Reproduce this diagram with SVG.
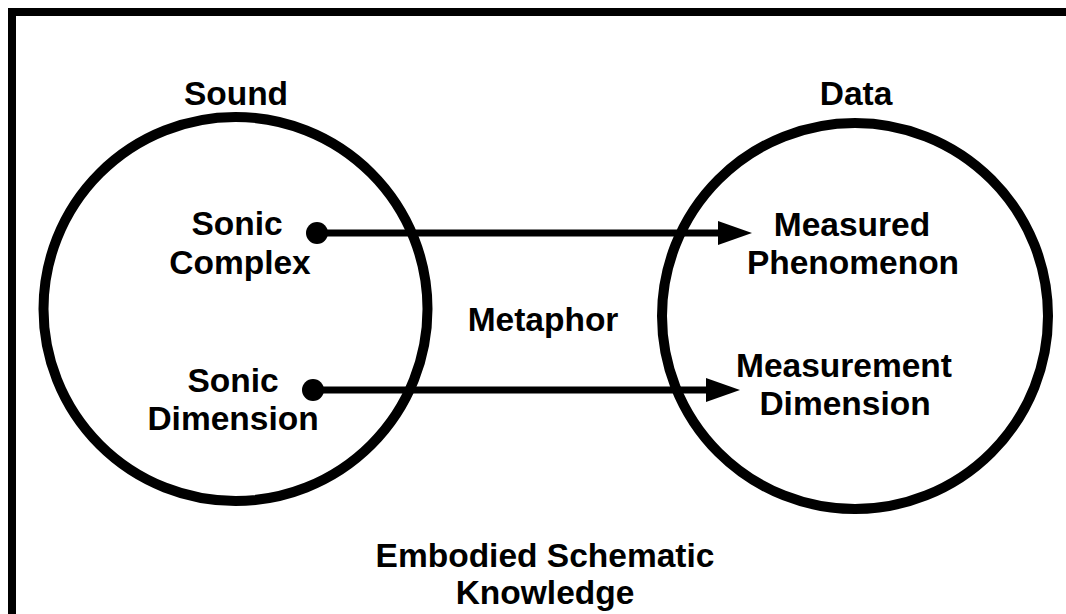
<svg xmlns="http://www.w3.org/2000/svg" width="1066" height="614" viewBox="0 0 1066 614">
  <style>
    .lbl { font-family: "Liberation Sans", Arial, sans-serif; font-weight: bold; font-size: 33.5px; fill: #000; text-anchor: middle; }
    .ring { fill: none; stroke: #000; stroke-width: 10; }
    .link { stroke: #000; stroke-width: 7; fill: none; }
  </style>
  <defs>
    <!-- arrowhead: line end sits 12px inside the head so the shaft never pokes past the tip -->
    <marker id="head" markerUnits="userSpaceOnUse" markerWidth="36" markerHeight="26" refX="12" refY="12" orient="auto">
      <polygon points="0,0 34,12 0,24" fill="#000"/>
    </marker>
  </defs>
  <rect width="1066" height="614" fill="#fff"/>
  <!-- outer frame -->
  <rect x="12" y="12" width="1064" height="620" fill="none" stroke="#000" stroke-width="8"/>

  <g id="sound">
    <circle class="ring" cx="235.5" cy="309" r="192"/>
    <text class="lbl" x="236" y="105">Sound</text>
  </g>
  <g id="data">
    <circle class="ring" cx="855" cy="316" r="193"/>
    <text class="lbl" x="856" y="105">Data</text>
  </g>
  <g id="sonic-complex">
    <text class="lbl" x="237" y="235">Sonic</text>
    <text class="lbl" x="240" y="274">Complex</text>
  </g>
  <g id="sonic-dimension">
    <text class="lbl" x="233" y="392">Sonic</text>
    <text class="lbl" x="233" y="430">Dimension</text>
  </g>
  <g id="measured-phenomenon">
    <text class="lbl" x="852" y="236">Measured</text>
    <text class="lbl" x="853" y="274">Phenomenon</text>
  </g>
  <g id="measurement-dimension">
    <text class="lbl" x="844" y="377">Measurement</text>
    <text class="lbl" x="845" y="415">Dimension</text>
  </g>
  <g id="metaphor">
    <text class="lbl" x="543" y="331">Metaphor</text>
  </g>
  <g id="knowledge">
    <text class="lbl" x="545" y="567">Embodied Schematic</text>
    <text class="lbl" x="545" y="604">Knowledge</text>
  </g>

  <g id="connectors">
    <circle cx="317" cy="233" r="11" fill="#000"/>
    <line class="link" x1="317" y1="233" x2="730" y2="233" marker-end="url(#head)"/>
    <circle cx="313" cy="390" r="11" fill="#000"/>
    <line class="link" x1="313" y1="390" x2="718" y2="390" marker-end="url(#head)"/>
  </g>
</svg>
